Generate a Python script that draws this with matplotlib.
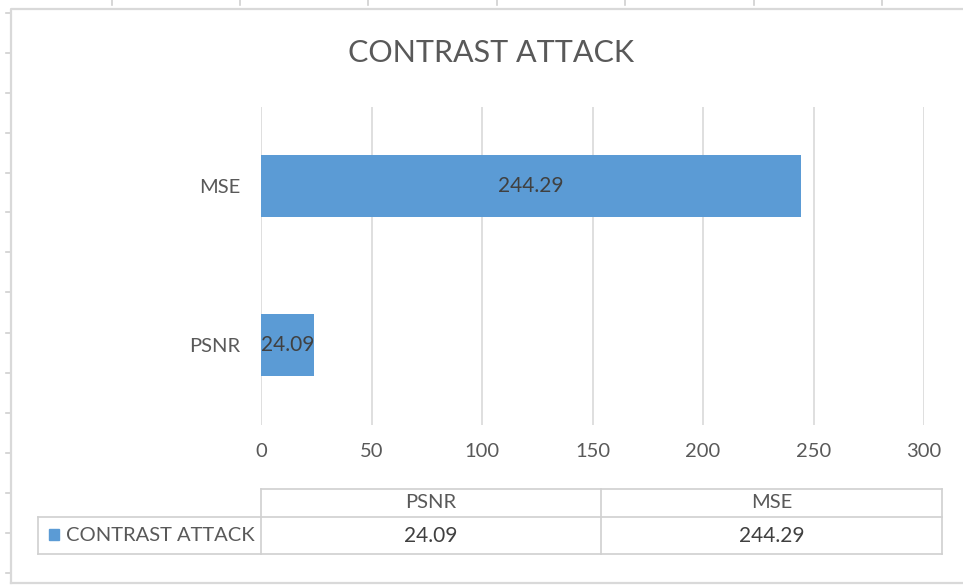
import matplotlib
matplotlib.use("Agg")
import matplotlib.pyplot as plt
from matplotlib.lines import Line2D
from matplotlib.patches import Rectangle

# ---- data ----
title = "CONTRAST ATTACK"
categories = ["PSNR", "MSE"]
values = [24.09, 244.29]
value_labels = ["24.09", "244.29"]
series_name = "CONTRAST ATTACK"
x_ticks = [0, 50, 100, 150, 200, 250, 300]

W, H = 963, 585
DPI = 100
plt.rcParams['font.family'] = ['Lato', 'DejaVu Sans']

fig = plt.figure(figsize=(W / DPI, H / DPI), dpi=DPI)
fig.patch.set_facecolor("white")

def fx(px):
    return px / W

def fy(py):
    return 1 - py / H

BAR = "#5B9BD5"
GRID = "#D9D9D9"
TXT = "#595959"
DARK = "#404040"
FS = 14.5
FSV = 15

# --- spreadsheet artefacts: top column ticks, left row ticks, chart border ---
for x in [112, 240, 368, 497, 625, 754, 882]:
    fig.add_artist(Line2D([fx(x), fx(x)], [fy(0), fy(5)], color="#D0D0D0", lw=1.2))
for y in [13, 53, 93, 133, 173, 212, 252, 292, 333, 373, 413, 453, 493, 533, 573]:
    fig.add_artist(Line2D([fx(6), fx(11)], [fy(y), fy(y)], color="#D0D0D0", lw=1.2))
fig.add_artist(Line2D([fx(11), fx(11), fx(W + 5)], [fy(583), fy(9), fy(9)], color="#D9D9D9", lw=1.6))
fig.add_artist(Line2D([fx(11), fx(W + 5)], [fy(583), fy(583)], color="#D9D9D9", lw=1.6))

# --- bar chart axes ---
left, right, top, bottom = 261, 924, 106.5, 424.5
ax = fig.add_axes([fx(left), fy(bottom), fx(right - left), (bottom - top) / H])
ypos = list(range(len(categories)))
bars = ax.barh(ypos, values, height=0.39, color=BAR, zorder=3)
ax.set_xlim(x_ticks[0], x_ticks[-1])
ax.set_ylim(-0.5, len(categories) - 0.5)
ax.set_xticks(x_ticks)
ax.set_xticklabels([str(t) for t in x_ticks])
ax.set_yticks(ypos)
ax.set_yticklabels(categories)
ax.tick_params(axis="x", length=0, pad=13, labelsize=FS, labelcolor=TXT)
ax.tick_params(axis="y", length=0, pad=15, labelsize=FS, labelcolor=TXT)
for s in ax.spines.values():
    s.set_visible(False)
ax.grid(axis="x", color=GRID, lw=1.2, zorder=0)
ax.set_axisbelow(True)
for b, lab in zip(bars, value_labels):
    ax.text(b.get_x() + b.get_width() / 2, b.get_y() + b.get_height() / 2, lab,
            ha="center", va="center", fontsize=FSV, color=DARK, zorder=4)

# --- title ---
fig.text(fx(491), fy(53), title, ha="center", va="center", fontsize=22, color=TXT)

# --- data table ---
col_x = [261, 601, 942]
row_top, row_mid, row_bot = 489, 517, 554
tleft = 38
tc = "#D0D0D0"
fig.add_artist(Line2D([fx(col_x[0]), fx(col_x[-1])], [fy(row_top), fy(row_top)], color=tc, lw=1.2))
fig.add_artist(Line2D([fx(tleft), fx(col_x[-1])], [fy(row_mid), fy(row_mid)], color=tc, lw=1.2))
fig.add_artist(Line2D([fx(tleft), fx(col_x[-1])], [fy(row_bot), fy(row_bot)], color=tc, lw=1.2))
fig.add_artist(Line2D([fx(tleft), fx(tleft)], [fy(row_mid), fy(row_bot)], color=tc, lw=1.2))
for x in col_x:
    fig.add_artist(Line2D([fx(x), fx(x)], [fy(row_top), fy(row_bot)], color=tc, lw=1.2))
for i, (cat, lab) in enumerate(zip(categories, value_labels)):
    cx = (col_x[i] + col_x[i + 1]) / 2
    fig.text(fx(cx), fy((row_top + row_mid) / 2), cat, ha="center", va="center", fontsize=FS, color=TXT)
    fig.text(fx(cx), fy((row_mid + row_bot) / 2), lab, ha="center", va="center", fontsize=FSV, color=DARK)
fig.add_artist(Rectangle((fx(49), fy(540)), fx(10), 11 / H, color=BAR))
fig.text(fx(66), fy((row_mid + row_bot) / 2), series_name, ha="left", va="center", fontsize=FS, color=TXT)

fig.savefig("out.png", dpi=DPI, facecolor="white")
